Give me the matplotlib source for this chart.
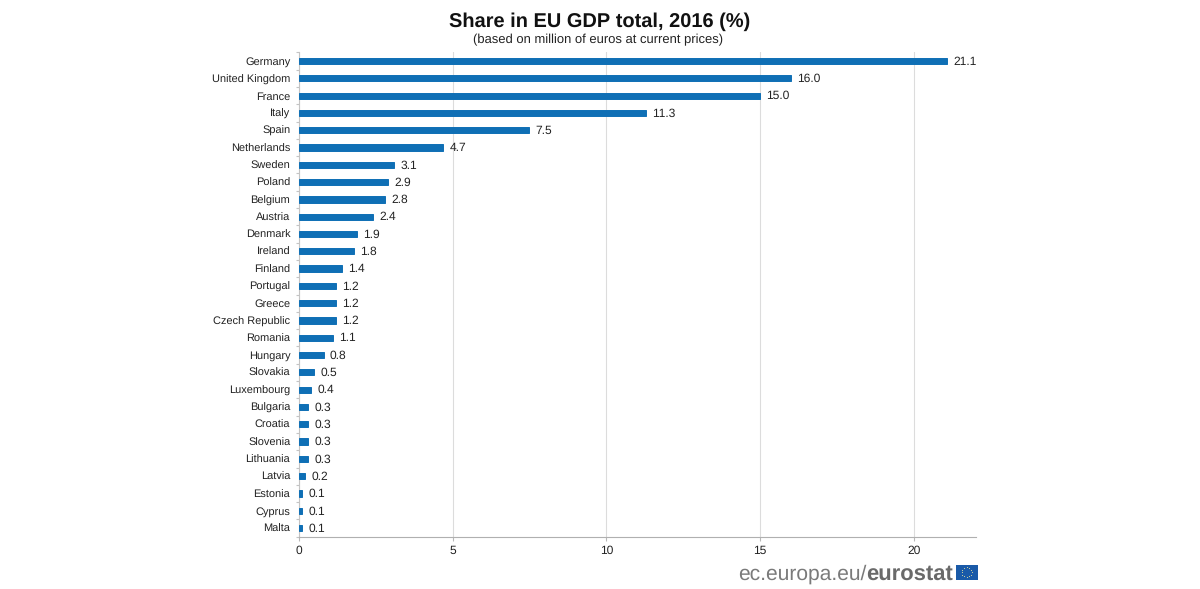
import matplotlib
matplotlib.use("Agg")
import matplotlib.pyplot as plt
from matplotlib.patches import Rectangle
import numpy as np

countries = ["Germany","United Kingdom","France","Italy","Spain","Netherlands","Sweden","Poland","Belgium","Austria","Denmark","Ireland","Finland","Portugal","Greece","Czech Republic","Romania","Hungary","Slovakia","Luxembourg","Bulgaria","Croatia","Slovenia","Lithuania","Latvia","Estonia","Cyprus","Malta"]
shares = [21.1,16.0,15.0,11.3,7.5,4.7,3.1,2.9,2.8,2.4,1.9,1.8,1.4,1.2,1.2,1.2,1.1,0.8,0.5,0.4,0.3,0.3,0.3,0.3,0.2,0.1,0.1,0.1]
xticks = [0,5,10,15,20]

plt.rcParams['font.family'] = ['Liberation Sans','DejaVu Sans']
plt.rcParams['text.hinting'] = 'no_hinting'
plt.rcParams['text.hinting_factor'] = 1
W,H = 1200,589
fig = plt.figure(figsize=(W/100,H/100),dpi=100)
ax = fig.add_axes([299/W,1-536.7/H,(976-299)/W,(536.7-52.4)/H])
y = np.arange(len(countries))
ax.barh(y,shares,height=0.36,color="#0f6fb5",edgecolor="#0f6fb5",lw=0.7,zorder=3)
for yi,v in zip(y,shares):
    ax.text(v+0.2,yi+0.03,f"{v:.1f}",va="center",ha="left",fontsize=8.3,color="#222222")
ax.set_ylim(len(countries)-0.5,-0.5)
ax.set_xlim(0,22.03)
ax.set_yticks(y,countries,fontsize=8.0,color="#222222")
ax.set_yticks(np.arange(len(countries)+1)-0.5,minor=True)
ax.set_xticks(xticks,[str(t) for t in xticks],fontsize=8.3,color="#222222")
ax.tick_params(axis='y',which='major',length=0,pad=6.3)
ax.tick_params(axis='y',which='minor',length=2.5,color="#c4c4c4",width=0.8)
ax.tick_params(axis='x',length=3,color="#b8b8b8",pad=3)
ax.grid(axis='x',color="#dcdcdc",lw=0.8,zorder=0)
for s in ['top','right']:
    ax.spines[s].set_visible(False)
ax.spines['left'].set_color("#c4c4c4")
ax.spines['bottom'].set_color("#b0b0b0")
fig.text(599.5/W,1-21.5/H,"Share in EU GDP total, 2016 (%)",ha="center",va="center",fontsize=14.1,fontweight="bold",color="#111111")
fig.text(598.5/W,1-39.5/H,"(based on million of euros at current prices)",ha="center",va="center",fontsize=9.6,color="#222222")
fig.text(866.5/W,1-574.5/H,"ec.europa.eu/",ha="right",va="center",fontsize=15.1,color="#7a7a7a")
fig.text(866.5/W,1-574.5/H,"eurostat",ha="left",va="center",fontsize=15.8,fontweight="bold",color="#6a6a6a")
fig.add_artist(Rectangle((956/W,1-579.5/H),21.5/W,15/H,transform=fig.transFigure,color="#1a5aa8",lw=0))
th = np.linspace(0,2*np.pi,12,endpoint=False)
sx = (966.8+5*np.cos(th))/W
sy = 1-(572+5*np.sin(th))/H
fig.add_artist(plt.Line2D(sx,sy,transform=fig.transFigure,ls='',marker='o',ms=0.8,mew=0,color="#d8d8a0"))
fig.savefig("out.png",dpi=100)
